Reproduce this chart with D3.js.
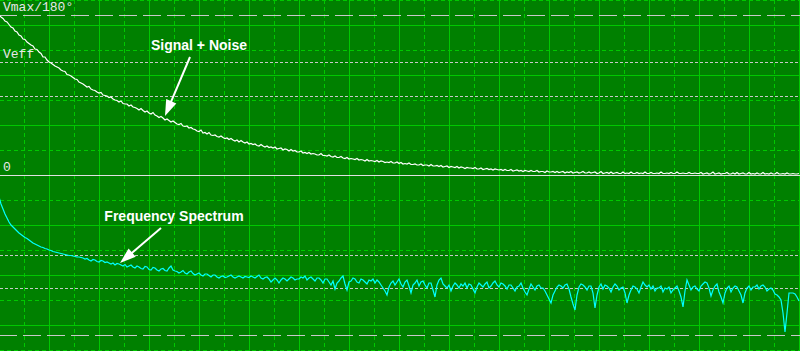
<html>
<head>
<meta charset="utf-8">
<script src="https://cdnjs.cloudflare.com/ajax/libs/d3/7.8.5/d3.min.js"></script>
<style>
body { margin: 0; background: #008000; }
svg { display: block; }
</style>
</head>
<body>
<script>

// sample spacing (screen samples) of both traces
var step = 2

// signal + noise trace, amplitude units (0 .. Vmax = 160), one row = 10 samples
var signalValues = [
160,158,156.5,154,153,150.5,148,147,144,143,
140,139,136,135.5,133,131.5,130,129,126,125.5,
123,121.5,118,118,115,113,112,110.5,109,108,
107,105,104,103.5,100.5,100,99,97.5,96,95.5,
93,92,91,89.5,88,88.5,86,85,84.5,83,
82,82.5,80,79.5,79,77.5,78,76,75,74.5,
73,74,71.5,71,71,69,70,68,67.5,66.5,
65,66.5,64.5,63,64,62,61,62.5,60,59,
57.5,58.5,57,55,56,54.5,53,54,52.5,51,
50.5,51.5,49,48.5,49,47,47.5,46,45.5,44,
43.5,45,42,42.5,41,42.5,40,39.5,40,38.5,
38,39,37.5,36.5,37,35.5,36.5,35,34,35,
33,34.5,33,32,33,31,31.5,30.5,31,29.5,
29,30.5,29,28,29,27.5,28,27,28,26,
26.5,27,25,26,25.5,24,25.5,24,24.5,23,
23,24,22,22.5,21.5,22.5,21,21.5,21,20,
20,21.5,19.5,19.5,19,20,18.5,18,19,17.5,
17.5,18.5,17,16.5,17.5,16,16.5,16,15.5,16.5,
15,15.5,15,14,15.5,14,14.5,14,13.5,14.5,
13,14,13.5,12.5,13,12.5,13.5,12,12,13,
11.5,12.5,11,11.5,11,12,10.5,10.5,11,10,
10,11,9.5,10,10,9,10.5,9,9,9.5,
8.5,9.5,8,8.5,9,7.5,8.5,8,7.5,8.5,
7,8,7.5,6.5,7.5,7,7,6.5,7.5,6,
6,7,5.5,6,6.5,5.5,6,5,6,5.5,
5,5.5,4.5,5.5,4.5,4.5,5.5,4,4.5,5,
4,4.5,3.5,4.5,4,3.5,4.5,3.5,3.5,4.5,
3,3.5,3.5,2.5,4,3,3,3.5,2.5,3.5,
2.5,3,3.5,2,3,2.5,3.5,2,2.5,3,
2,2.5,3.5,2,2,3,2,2.5,3,1.5,
2,3.5,1.5,2,2.5,1.5,3,1.5,2,2.5,
1.5,1.5,3,1.5,2,1.5,3,1.5,1.5,2.5,
1.5,2,1.5,3,1.5,1.5,2.5,1.5,1.5,2,
1.5,3,1.5,1.5,2,1.5,2.5,1.5,1.5,3,
1.5,1.5,2,1.5,1.5,2.5,1.5,1.5,2,1.5,
1.5,2.5,1,1.5,2,1,1.5,3,1,1.5,
2,1,1.5,1.5,2.5,1,1,2,1,2.5,
1,1.5,2,1,1,2.5,1,1.5,1,2,
1,1,2.5,1,1.5,1,2,1,1,2.5,
1,1,1.5,1,2,1,1,1.5,1,1,
1.5
]

// frequency spectrum trace, level units (0 .. 160), one row = 10 samples
var spectrumValues = [
138,131,126,121,117,113,110,108,106,104,
102,100.5,99,97.5,96.5,95,93.5,92,91,90,
89,88,87.5,86.5,86,85,84.5,83.5,83,82.5,
82,81.5,81,80.5,80,79.5,79.5,79,78.5,78,
78,77.5,77,76,76.5,75,74,75.5,75,73.5,
73,74.5,74,72.5,73,72,71,72,70,71.5,
71,70,69,70.5,68,69,70,68,67,69,
68,66.5,66,68.5,68,65.5,65,67.5,67,65,
64,66,66.5,64.5,64,67,69,65,64,63.5,
62,63,64.5,62,61,63,64,61.5,60,61,
62,60,59,61,61,59.5,58,60,60,58,
57,58.5,59,57.5,58,59,60,58,57,58,
59,58,57,58.5,58,57.5,59,58,57,58.5,
60,57,56,57.5,58,56,53,55,57,55,
52,55,57,56,54,56,58,57,55,56,
56,58,57,59,55,57,58,56,54,57,
57,55,52,56,56,53,50,54,46,52,
54,57,59,51,45,53,54,57,56,53,
52,56,55,53,51,55,54,56,52,55,
53,50,47,44,40,48,52,54,50,53,
56,51,48,53,55,49,42,50,52,55,
49,53,54,50,47,52,52,45,38,50,
55,57,51,49,47,50,44,49,52,50,
47,51,49,52,47,51,50,46,42,48,
52,50,48,51,53,47,49,52,54,50,
48,52,51,49,46,50,50,47,44,48,
49,52,47,43,40,46,51,48,45,49,
50,47,47,44,40,36,32,40,44,48,
50,49,47,50,51,46,38,31,25,40,
48,51,50,48,45,49,49,42,27,40,
48,51,46,50,49,47,43,48,51,49,
45,47,48,42,32,40,45,49,48,46,
42,48,53,50,48,50,46,49,44,47,
47,49,43,47,46,48,42,45,47,49,
44,38,28,44,55,50,45,48,49,46,
44,49,51,53,52,47,39,45,49,51,
43,38,32,42,47,49,43,47,49,48,
44,40,32,42,47,49,45,48,48,50,
46,49,50,48,44,46,47,45,41,40,
38,35,22,3,22,42,42,42,41,38,
34
]

// reference levels
var sigLevels  = [{v: 160, kind: "long"}, {v: 113, kind: "short"}, {v: 79, kind: "short"}]
var specLevels = [{v: 80, kind: "short"}, {v: 47, kind: "short"}, {v: 0, kind: "long"}]
var sigLabels  = [{v: 160, text: "Vmax/180°"}, {v: 113, text: "Veff"}, {v: 0, text: "0"}]

// annotations: text anchor and arrow, in sample / level units
var notes = [
  {text: "Signal + Noise", scale: "sig", at: [200, 125], from: [191, 118], to: [166, 59]},
  {text: "Frequency Spectrum", scale: "spec", at: [175, 114], from: [162, 107], to: [121, 72]}
]

var W = 800, H = 351

var svg = d3.select("body").append("svg").attr("width", W).attr("height", H)

var x = d3.scaleLinear().domain([0, 800]).range([-1, 799])
var ySig = d3.scaleLinear().domain([0, 160]).range([175, 15])
var ySpec = d3.scaleLinear().domain([0, 160]).range([335, 175])

svg.append("rect").attr("width", W).attr("height", H).attr("fill", "#008000")

// grid: every 25 units, solid every other line
var grid = svg.append("g").attr("stroke", "#00c800").attr("stroke-width", 1).attr("shape-rendering", "crispEdges")

d3.range(25, 801, 25).forEach(function(v) {
  var px = Math.round(x(v)) + 0.5
  grid.append("line").attr("x1", px).attr("x2", px).attr("y1", 0).attr("y2", H)
    .attr("stroke-dasharray", v % 50 == 0 ? null : "4,3")
})
d3.range(175, -200, -25).forEach(function(v) {
  var py = Math.round(ySig(v)) + 0.5
  if (py < 0) py = 0.5
  grid.append("line").attr("x1", 0).attr("x2", W).attr("y1", py).attr("y2", py)
    .attr("stroke-dasharray", (175 - v) % 50 == 0 ? "4,3" : null)
})

// reference lines
function level(y, kind) {
  svg.append("line").attr("x1", 0).attr("x2", W).attr("y1", y + 0.5).attr("y2", y + 0.5)
    .attr("stroke", "#c8c8c8").attr("stroke-width", 1).attr("shape-rendering", "crispEdges")
    .attr("stroke-dasharray", kind == "long" ? "18,6" : "3,2")
    .attr("stroke-dashoffset", kind == "long" ? 1 : 0)
}
sigLevels.forEach(function(d) { level(Math.round(ySig(d.v)), d.kind) })
specLevels.forEach(function(d) { level(Math.round(ySpec(d.v)), d.kind) })

svg.append("line").attr("x1", 0).attr("x2", W).attr("y1", ySig(0) + 0.5).attr("y2", ySig(0) + 0.5)
  .attr("stroke", "#e0e0e0").attr("stroke-width", 1).attr("shape-rendering", "crispEdges")

svg.selectAll(".lvl").data(sigLabels).enter().append("text")
  .attr("class", "lvl")
  .attr("x", 3)
  .attr("y", function(d) { return ySig(d.v) - 4.5 })
  .attr("font-family", "'Liberation Mono', 'Courier New', monospace")
  .attr("font-size", "13px")
  .attr("fill", "#e8e8e8")
  .text(function(d) { return d.text })

// traces
var sigLine = d3.line().x(function(d, i) { return x(i * step) }).y(function(d) { return ySig(d) })
var specLine = d3.line().x(function(d, i) { return x(i * step) }).y(function(d) { return ySpec(d) })

svg.append("path").datum(signalValues).attr("d", sigLine)
  .attr("fill", "none").attr("stroke", "#ffffff").attr("stroke-width", 1.2)

svg.append("path").datum(spectrumValues).attr("d", specLine)
  .attr("fill", "none").attr("stroke", "#00ffff").attr("stroke-width", 1.2)

// annotations
notes.forEach(function(n) {
  var ys = n.scale == "sig" ? ySig : ySpec
  var x0 = x(n.from[0]), y0 = ys(n.from[1]), x1 = x(n.to[0]), y1 = ys(n.to[1])
  var dx = x1 - x0, dy = y1 - y0, len = Math.sqrt(dx * dx + dy * dy)
  var ux = dx / len, uy = dy / len, hl = 16, hw = 5.5
  var bx = x1 - ux * hl, by = y1 - uy * hl

  svg.append("line").attr("x1", x0).attr("y1", y0).attr("x2", bx + ux * 2).attr("y2", by + uy * 2)
    .attr("stroke", "#ffffff").attr("stroke-width", 2)
  svg.append("polygon")
    .attr("points", [[x1, y1], [bx - uy * hw, by + ux * hw], [bx + uy * hw, by - ux * hw]].join(" "))
    .attr("fill", "#ffffff")

  svg.append("text")
    .attr("x", x(n.at[0])).attr("y", ys(n.at[1]))
    .attr("text-anchor", "middle")
    .attr("font-family", "'Liberation Sans', Arial, sans-serif")
    .attr("font-weight", "bold")
    .attr("font-size", "14px")
    .attr("fill", "#ffffff")
    .text(n.text)
})

</script>
</body>
</html>
